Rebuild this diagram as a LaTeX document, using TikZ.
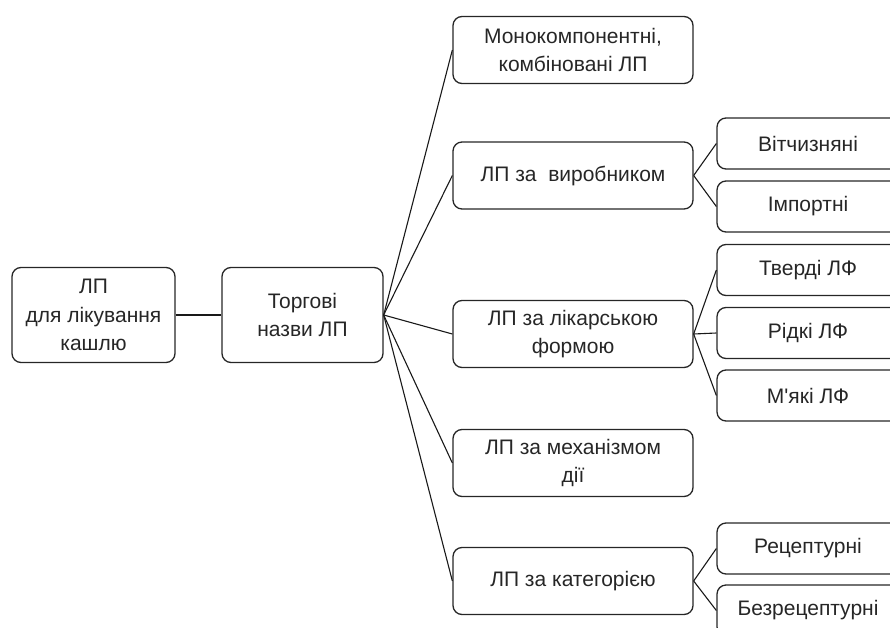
\documentclass[tikz,border=0pt]{standalone}
\usepackage{fontspec}
\setmainfont{Liberation Sans}
\usepackage{tikz}
\usetikzlibrary{positioning}
\tikzset{
  box/.style={draw=black!85, line width=1.3pt, rounded corners=9pt, align=center,
    text=black!85, inner sep=2pt, font=\fontsize{21}{28.5}\selectfont},
  rootbox/.style={box, minimum width=163pt, minimum height=95pt},
  midbox/.style={box, minimum width=240pt, minimum height=67pt},
  leafbox/.style={box, minimum width=182pt, minimum height=51pt},
  link/.style={line width=1.1pt, black!90}
}

\begin{document}
\begin{tikzpicture}[x=1pt,y=-1pt]
\useasboundingbox (0,0) rectangle (890,628);
\clip (0,0) rectangle (890,628);
% left part
\node[rootbox] (root) at (93.5,315) {ЛП\\для лікування\\кашлю};
\node[rootbox,minimum width=161pt] (trade) at (302.5,315) {Торгові\\назви ЛП};
% middle column
\node[midbox] (mono) at (573,50) {Монокомпонентні,\\комбіновані ЛП};
\node[midbox] (maker) at (573,175.5) {ЛП за\ \ виробником};
\node[midbox] (form) at (573,334) {ЛП за лікарською\\формою};
\node[midbox] (mech) at (573,463) {ЛП за механізмом\\дії};
\node[midbox] (categ) at (573,581) {ЛП за категорією};
% right column
\node[leafbox] (home) at (808,143.5) {Вітчизняні};
\node[leafbox] (import) at (808,206.5) {Імпортні};
\node[leafbox] (solid) at (808,270) {Тверді ЛФ};
\node[leafbox] (liquid) at (808,333) {Рідкі ЛФ};
\node[leafbox] (soft) at (808,395.5) {М\textquotesingle які ЛФ};
\node[leafbox] (rx) at (808,548.5) {Рецептурні};
\node[leafbox] (otc) at (808,610.5) {Безрецептурні};
% connectors
\draw[link] (root) -- (trade);
\foreach \m in {mono,maker,form,mech,categ}
  \draw[link] (trade.east) -- (\m.west);
\draw[link] (maker.east) -- (home.west);
\draw[link] (maker.east) -- (import.west);
\draw[link] (form.east) -- (solid.west);
\draw[link] (form.east) -- (liquid.west);
\draw[link] (form.east) -- (soft.west);
\draw[link] (categ.east) -- (rx.west);
\draw[link] (categ.east) -- (otc.west);
\end{tikzpicture}
\end{document}
